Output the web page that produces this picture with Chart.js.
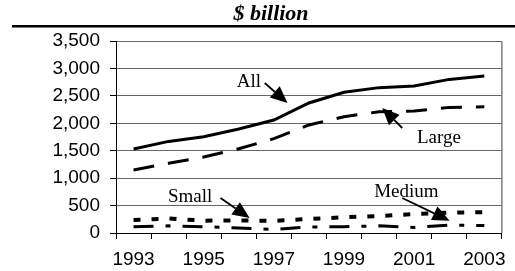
<!DOCTYPE html>
<html>
<head>
<meta charset="utf-8">
<script src="https://cdn.jsdelivr.net/npm/chart.js@4"></script>
<style>
html,body{margin:0;padding:0;background:#fff;}
#wrap{width:515px;height:271px;position:relative;}
</style>
</head>
<body>
<div id="wrap"><canvas id="c" width="515" height="271"></canvas></div>
<script>
const years = ['1993','1994','1995','1996','1997','1998','1999','2000','2001','2002','2003'];
const allValues    = [1530, 1670, 1755, 1895, 2060, 2370, 2565, 2650, 2680, 2800, 2860];
const largeValues  = [1150, 1270, 1385, 1535, 1720, 1970, 2120, 2210, 2225, 2290, 2300];
const smallValues  = [237, 265, 225, 230, 220, 255, 286, 310, 345, 370, 380];
const mediumValues = [115, 130, 115, 90, 65, 110, 115, 130, 100, 145, 135];
const yTicks = [0, 500, 1000, 1500, 2000, 2500, 3000, 3500];
const titleText = '$ billion';
// annotation labels: text anchor and arrow (from -> tip), in data coordinates (category index, value)
const annotationLabels = ['All', 'Large', 'Small', 'Medium'];
const annotationText   = [[2.94, 2662], [8.08, 1641], [0.98, 565], [6.86, 656]];
const annotationFrom   = [[3.74, 2734], [7.66, 1914], [2.48, 638], [7.66, 638]];
const annotationTip    = [[4.39, 2370], [7.09, 2279], [3.31, 273], [9.01, 224]];

const decor = {
  id: 'decor',
  beforeDraw(chart) {
    const ctx = chart.ctx;
    ctx.save();
    ctx.fillStyle = '#fff';
    ctx.fillRect(0, 0, chart.width, chart.height);
    ctx.restore();
  },
  afterDraw(chart) {
    const ctx = chart.ctx, a = chart.chartArea;
    const xs = chart.scales.x, ys = chart.scales.y;
    ctx.save();
    // title
    ctx.fillStyle = '#000';
    ctx.font = 'italic bold 22px "Liberation Serif", "Times New Roman", serif';
    ctx.textAlign = 'center';
    ctx.textBaseline = 'alphabetic';
    ctx.fillText(titleText, 271, 20);
    ctx.fillRect(12, 25, chart.width - 12, 2.5);
    // right border
    ctx.strokeStyle = '#808080';
    ctx.lineWidth = 1.5;
    ctx.beginPath();
    ctx.moveTo(a.right, a.top);
    ctx.lineTo(a.right, a.bottom);
    ctx.stroke();
    // annotations
    const px = (p) => [xs.getPixelForValue(p[0]), ys.getPixelForValue(p[1])];
    ctx.font = '19px "Liberation Serif", "Times New Roman", serif';
    ctx.textAlign = 'left';
    ctx.fillStyle = '#000';
    ctx.strokeStyle = '#000';
    for (let i = 0; i < annotationLabels.length; i++) {
      const t = px(annotationText[i]);
      ctx.fillText(annotationLabels[i], t[0], t[1]);
      const f = px(annotationFrom[i]), tip = px(annotationTip[i]);
      const ang = Math.atan2(tip[1] - f[1], tip[0] - f[0]);
      const hl = 17, hw = 7.5;
      const bx = tip[0] - hl * Math.cos(ang), by = tip[1] - hl * Math.sin(ang);
      ctx.lineWidth = 1.8;
      ctx.beginPath();
      ctx.moveTo(f[0], f[1]);
      ctx.lineTo(bx, by);
      ctx.stroke();
      ctx.beginPath();
      ctx.moveTo(tip[0], tip[1]);
      ctx.lineTo(bx + hw * Math.sin(ang), by - hw * Math.cos(ang));
      ctx.lineTo(bx - hw * Math.sin(ang), by + hw * Math.cos(ang));
      ctx.closePath();
      ctx.fill();
    }
    ctx.restore();
  }
};

new Chart(document.getElementById('c'), {
  type: 'line',
  data: {
    labels: years,
    datasets: [
      { label: 'All', data: allValues, borderColor: '#000', borderWidth: 3, pointRadius: 0, tension: 0, fill: false },
      { label: 'Large', data: largeValues, borderColor: '#000', borderWidth: 3, borderDash: [21, 14], pointRadius: 0, tension: 0, fill: false },
      { label: 'Small', data: smallValues, borderColor: '#000', borderWidth: 4, borderDash: [7, 11], pointRadius: 0, tension: 0, fill: false },
      { label: 'Medium', data: mediumValues, borderColor: '#000', borderWidth: 3, borderDash: [20, 12, 5, 12], pointRadius: 0, tension: 0, fill: false }
    ]
  },
  options: {
    responsive: false,
    animation: false,
    layout: { padding: { top: 41, right: 12, left: 0, bottom: 0 } },
    plugins: { legend: { display: false }, title: { display: false }, tooltip: { enabled: false } },
    scales: {
      x: {
        type: 'category',
        offset: true,
        grid: { offset: true, drawOnChartArea: false, drawTicks: true, tickLength: 6, color: '#000', lineWidth: 1 },
        border: { display: true, color: '#000', width: 1 },
        ticks: {
          autoSkip: false, maxRotation: 0, padding: 9, color: '#000',
          font: { family: '"Liberation Sans", Arial, sans-serif', size: 19 },
          callback: function(v, i) { return i % 2 === 0 ? years[i] : ''; }
        },
        afterFit: (s) => { s.height = 38; }
      },
      y: {
        min: 0, max: 3500,
        afterBuildTicks: (s) => { s.ticks = yTicks.map(v => ({ value: v })); },
        grid: { color: '#666', lineWidth: 1, tickLength: 6, tickColor: '#000' },
        border: { display: true, color: '#000', width: 1 },
        ticks: {
          padding: 10, color: '#000',
          font: { family: '"Liberation Sans", Arial, sans-serif', size: 19 },
          callback: (v) => v.toLocaleString('en-US')
        },
        afterFit: (s) => { s.width = 116; }
      }
    }
  },
  plugins: [decor]
});
</script>
</body>
</html>
